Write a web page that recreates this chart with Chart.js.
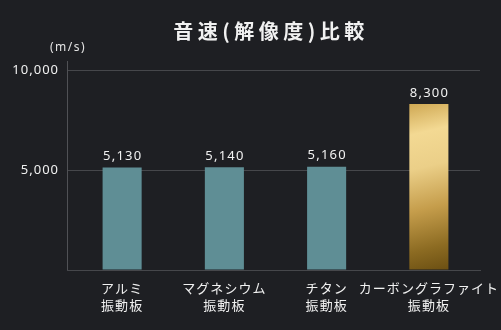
<!DOCTYPE html>
<html>
<head>
<meta charset="utf-8">
<script src="https://cdn.jsdelivr.net/npm/chart.js@4"></script>
<style>
  html, body { margin: 0; padding: 0; background: #1e1f23; }
  #wrap { width: 501px; height: 330px; position: relative; }
</style>
</head>
<body>
<div id="wrap"><canvas id="chartContainer"></canvas></div>
<script>
// sound velocity per diaphragm material (m/s)
var materials = [['アルミ', '振動板'], ['マグネシウム', '振動板'], ['チタン', '振動板'], ['カーボングラファイト', '振動板']];
var speeds = [5130, 5140, 5160, 8300];
var yTicks = [0, 5000, 10000];

var TEAL = '#5f8e95';
var GRID = '#46474b';
var TEXT = '#f1f1f1';

// gold fill for the graphite bar
function goldFill(c) {
    var chart = c.chart;
    var area = chart.chartArea;
    if (!area) return '#c9a24f';
    var x = chart.scales.x.getPixelForValue(c.dataIndex);
    var top = chart.scales.y.getPixelForValue(speeds[c.dataIndex]);
    var g = chart.ctx.createLinearGradient(x - 20, top, x + 20, area.bottom);
    g.addColorStop(0, '#cfa853');
    g.addColorStop(0.18, '#f3d993');
    g.addColorStop(0.38, '#ebcf88');
    g.addColorStop(0.62, '#c59d4b');
    g.addColorStop(0.85, '#8c6b22');
    g.addColorStop(1, '#6b4f12');
    return g;
}

var decorations = {
    id: 'decorations',
    beforeLayout: function (chart) { chart.ctx.letterSpacing = '1px'; },
    beforeDraw: function (chart) {
        var ctx = chart.ctx;
        ctx.save();
        ctx.fillStyle = '#1e1f23';
        ctx.fillRect(0, 0, chart.width, chart.height);
        ctx.restore();
        ctx.letterSpacing = '1px';
    },
    beforeDatasetsDraw: function (chart) {
        // vertical axis line, drawn a bit above the top gridline
        var ctx = chart.ctx, a = chart.chartArea;
        ctx.save();
        ctx.strokeStyle = '#505155';
        ctx.lineWidth = 1;
        ctx.beginPath();
        ctx.moveTo(a.left - 3.5, a.top);
        ctx.lineTo(a.left - 3.5, a.bottom);
        ctx.stroke();
        ctx.restore();
    },
    afterDraw: function (chart) {
        var ctx = chart.ctx, a = chart.chartArea;
        ctx.save();
        ctx.fillStyle = TEXT;
        ctx.textAlign = 'center';
        ctx.textBaseline = 'middle';

        // title
        ctx.letterSpacing = '4.5px';
        ctx.font = 'bold 20px "Noto Sans CJK JP"';
        ctx.fillText('音速(解像度)比較', 271, 31);

        // unit
        ctx.letterSpacing = '1.5px';
        ctx.font = '12px "Noto Sans", "Noto Sans CJK JP"';
        ctx.fillStyle = '#e4e4e4';
        ctx.fillText('(m/s)', a.left - 3, 48);

        // value labels
        ctx.fillStyle = TEXT;
        ctx.letterSpacing = '1.2px';
        ctx.font = '13px "Noto Sans"';
        ctx.textBaseline = 'alphabetic';
        chart.getDatasetMeta(0).data.forEach(function (bar, i) {
            ctx.fillText(speeds[i].toLocaleString('en-US'), bar.x + 0.6, bar.y - 7.5);
        });
        ctx.restore();
    }
};

var ctx = document.getElementById('chartContainer').getContext('2d');

var chart = new Chart(ctx, {
    type: 'bar',
    data: {
        labels: materials,
        datasets: [{
            data: speeds,
            backgroundColor: function (c) {
                return c.dataIndex === 3 ? goldFill(c) : TEAL;
            },
            borderWidth: 0,
            categoryPercentage: 1,
            barPercentage: 0.382
        }]
    },
    options: {
        responsive: true,
        maintainAspectRatio: false,
        animation: false,
        layout: { padding: { left: 0, top: 61, right: 21, bottom: 0 } },
        plugins: {
            legend: { display: false },
            tooltip: { enabled: false }
        },
        scales: {
            x: {
                grid: { display: false, drawTicks: false },
                border: { display: true, color: GRID },
                ticks: {
                    color: TEXT,
                    padding: 9,
                    autoSkip: false,
                    maxRotation: 0,
                    minRotation: 0,
                    font: { family: '"Noto Sans CJK JP"', size: 13, lineHeight: 1.35 }
                },
                afterFit: function (s) {
                    s.height = 60;
                    s.paddingLeft = 0;
                    s.paddingRight = 0;
                }
            },
            y: {
                min: 0,
                max: 10450,
                border: { display: false },
                grid: { color: GRID, tickLength: 4, tickColor: GRID },
                ticks: {
                    color: TEXT,
                    padding: 8,
                    font: { family: '"Noto Sans"', size: 13 },
                    callback: function (v) { return v === 0 ? '' : v.toLocaleString('en-US'); }
                },
                afterBuildTicks: function (s) {
                    s.ticks = yTicks.map(function (v) { return { value: v }; });
                },
                afterFit: function (s) { s.width = 71; }
            }
        }
    },
    plugins: [decorations]
});
</script>
</body>
</html>
